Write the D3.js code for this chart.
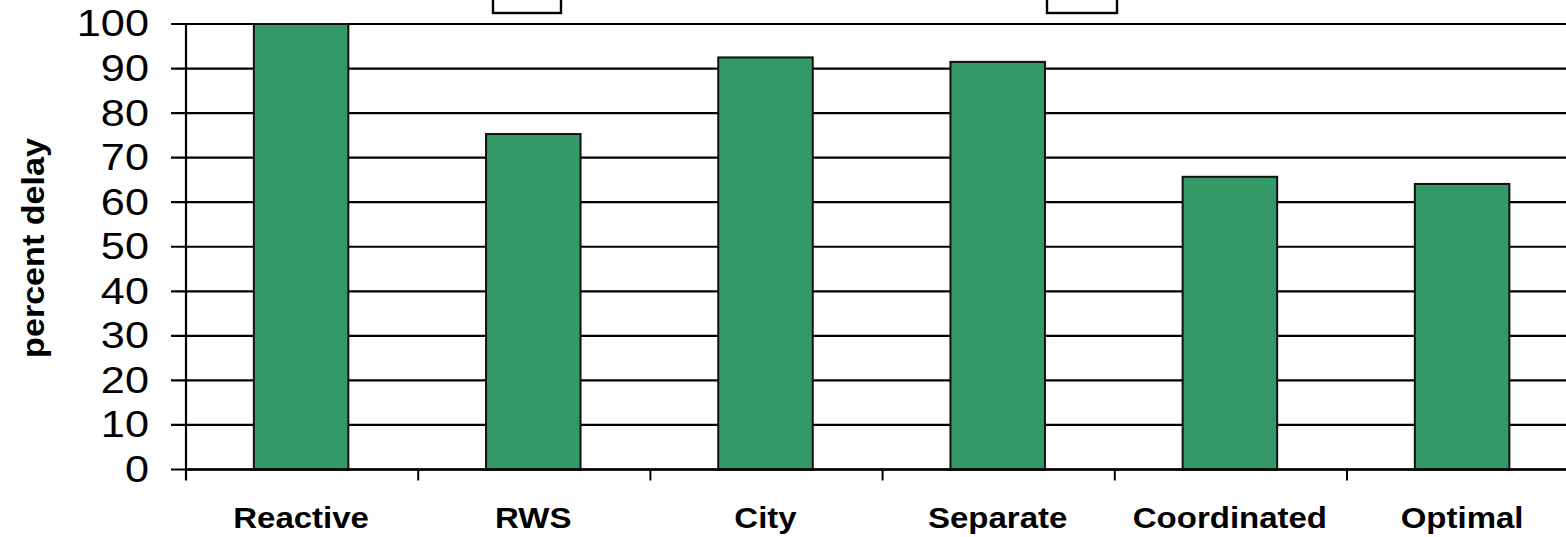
<!DOCTYPE html>
<html>
<head>
<meta charset="utf-8">
<script src="https://cdn.jsdelivr.net/npm/d3@7"></script>
<style>
  html, body { margin: 0; padding: 0; background: #ffffff; }
  svg { display: block; }
</style>
</head>
<body>
<svg id="chart" width="1566" height="537"></svg>
<script>
// Delay of each control strategy, as a percentage of the reactive baseline
const categories = ["Reactive", "RWS", "City", "Separate", "Coordinated", "Optimal"];
const delayPercent = [100, 75.3, 92.5, 91.5, 65.7, 64.1];
const yTickValues = [0, 10, 20, 30, 40, 50, 60, 70, 80, 90, 100];
const yAxisTitle = "percent delay";

const svg = d3.select("#chart");

const plotLeft = 186, plotRight = 1579.2, plotTop = 24, plotBottom = 469.5;

const x = d3.scaleBand()
  .domain(categories)
  .range([plotLeft, plotRight])
  .paddingInner(0.593)
  .paddingOuter(0.593 / 2);

const y = d3.scaleLinear()
  .domain([0, 100])
  .range([plotBottom, plotTop]);

// Horizontal gridlines, with the left tick stubs
svg.append("g")
  .selectAll("line")
  .data(yTickValues)
  .join("line")
  .attr("x1", plotLeft - 15)
  .attr("x2", 1566)
  .attr("y1", d => y(d))
  .attr("y2", d => y(d))
  .attr("stroke", "#000")
  .attr("stroke-width", 2.2);

// Bars
svg.append("g")
  .selectAll("rect")
  .data(categories.map((c, i) => ({ c, v: delayPercent[i] })))
  .join("rect")
  .attr("x", d => x(d.c) - 1)
  .attr("y", d => y(d.v))
  .attr("width", x.bandwidth())
  .attr("height", d => y(0) - y(d.v))
  .attr("fill", "#339966")
  .attr("stroke", "#111")
  .attr("stroke-width", 2);

// Vertical axis line, running slightly below zero as the first category tick
svg.append("line")
  .attr("x1", plotLeft).attr("x2", plotLeft)
  .attr("y1", plotTop).attr("y2", plotBottom + 11)
  .attr("stroke", "#000").attr("stroke-width", 2.2);

// Zero baseline
svg.append("line")
  .attr("x1", plotLeft).attr("x2", 1566)
  .attr("y1", y(0)).attr("y2", y(0))
  .attr("stroke", "#000").attr("stroke-width", 2.6);

// Category separator ticks below the baseline
const step = x.step();
const boundaries = d3.range(1, categories.length + 1).map(i => plotLeft + i * step);
svg.append("g")
  .selectAll("line")
  .data(boundaries)
  .join("line")
  .attr("x1", d => d).attr("x2", d => d)
  .attr("y1", plotBottom).attr("y2", plotBottom + 11)
  .attr("stroke", "#000").attr("stroke-width", 2);

// Y tick labels
svg.append("g")
  .selectAll("text")
  .data(yTickValues)
  .join("text")
  .attr("transform", d => `translate(149,${y(d)}) scale(1.17,1)`)
  .attr("text-anchor", "end")
  .attr("dominant-baseline", "central")
  .attr("font-family", "'Liberation Sans', Arial, sans-serif")
  .attr("font-size", 37)
  .attr("fill", "#000")
  .text(d => d);

// Category labels
svg.append("g")
  .selectAll("text")
  .data(categories)
  .join("text")
  .attr("transform", d => `translate(${x(d) + x.bandwidth() / 2 - 1},528) scale(1.1,1)`)
  .attr("text-anchor", "middle")
  .attr("font-family", "'Liberation Sans', Arial, sans-serif")
  .attr("font-weight", "bold")
  .attr("font-size", 30)
  .attr("fill", "#000")
  .text(d => d);

// Y axis title
svg.append("text")
  .attr("transform", `translate(44,248) rotate(-90) scale(1.1,1)`)
  .attr("text-anchor", "middle")
  .attr("font-family", "'Liberation Sans', Arial, sans-serif")
  .attr("font-weight", "bold")
  .attr("font-size", 31)
  .attr("fill", "#000")
  .text(yAxisTitle);

// Two framed boxes clipped at the top edge
svg.append("g")
  .selectAll("rect")
  .data([[493, 561], [1047, 1117]])
  .join("rect")
  .attr("x", d => d[0])
  .attr("y", -10)
  .attr("width", d => d[1] - d[0])
  .attr("height", 23)
  .attr("fill", "#fff")
  .attr("stroke", "#000")
  .attr("stroke-width", 2.4);
</script>
</body>
</html>
